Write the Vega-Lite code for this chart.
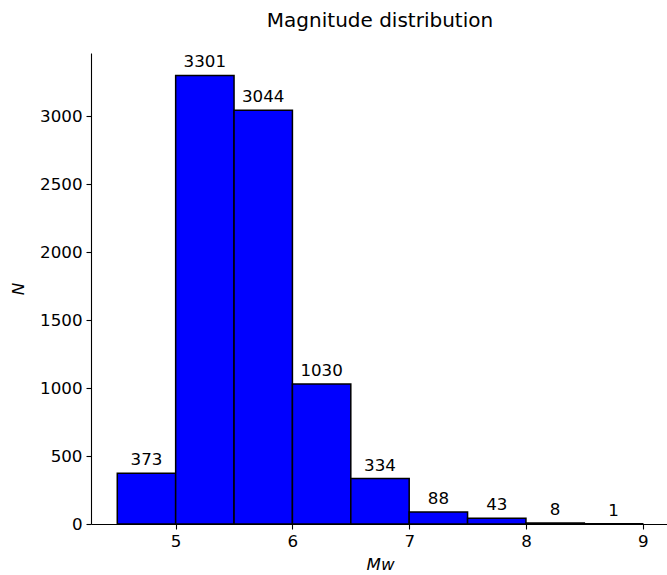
{
  "$schema": "https://vega.github.io/schema/vega-lite/v6.json",
  "width": 578,
  "height": 471,
  "autosize": {"type": "none"},
  "padding": {"left": 91, "top": 53, "right": 0, "bottom": 51},
  "background": "white",
  "title": {
    "text": "Magnitude distribution",
    "font": "DejaVu Sans",
    "fontSize": 20,
    "fontWeight": "normal",
    "color": "black",
    "anchor": "middle",
    "offset": 22
  },
  "config": {
    "view": {"stroke": null},
    "axis": {
      "labelFont": "DejaVu Sans",
      "labelFontSize": 16.7,
      "labelColor": "black",
      "titleFont": "DejaVu Sans",
      "titleFontSize": 16.7,
      "titleColor": "black",
      "titleFontWeight": "normal",
      "domainColor": "black",
      "domainWidth": 1.1,
      "tickColor": "black",
      "tickSize": 5,
      "tickWidth": 1.1,
      "grid": false,
      "labelPadding": 4
    }
  },
  "data": {
    "values": [
      {"start": 4.5, "end": 5.0, "count": 373},
      {"start": 5.0, "end": 5.5, "count": 3301},
      {"start": 5.5, "end": 6.0, "count": 3044},
      {"start": 6.0, "end": 6.5, "count": 1030},
      {"start": 6.5, "end": 7.0, "count": 334},
      {"start": 7.0, "end": 7.5, "count": 88},
      {"start": 7.5, "end": 8.0, "count": 43},
      {"start": 8.0, "end": 8.5, "count": 8},
      {"start": 8.5, "end": 9.0, "count": 1}
    ]
  },
  "layer": [
    {
      "mark": {"type": "rect", "fill": "#0000ff", "stroke": "black", "strokeWidth": 1.5},
      "encoding": {
        "x": {
          "field": "start", "type": "quantitative",
          "scale": {"domain": [4.275, 9.225], "nice": false, "zero": false},
          "axis": {"values": [5, 6, 7, 8, 9], "format": "d", "title": "Mw", "titleFontStyle": "italic", "titlePadding": 7}
        },
        "x2": {"field": "end"},
        "y": {
          "field": "count", "type": "quantitative",
          "scale": {"domain": [0, 3466], "nice": false},
          "axis": {"values": [0, 500, 1000, 1500, 2000, 2500, 3000], "format": "d", "title": "N", "titleFontStyle": "italic", "titlePadding": 12}
        },
        "y2": {"datum": 0}
      }
    },
    {
      "transform": [{"calculate": "(datum.start + datum.end) / 2", "as": "mid"}],
      "mark": {"type": "text", "baseline": "bottom", "dy": -4, "font": "DejaVu Sans", "fontSize": 16.7, "color": "black"},
      "encoding": {
        "x": {"field": "mid", "type": "quantitative"},
        "y": {"field": "count", "type": "quantitative"},
        "text": {"field": "count", "type": "quantitative", "format": "d"}
      }
    }
  ]
}
